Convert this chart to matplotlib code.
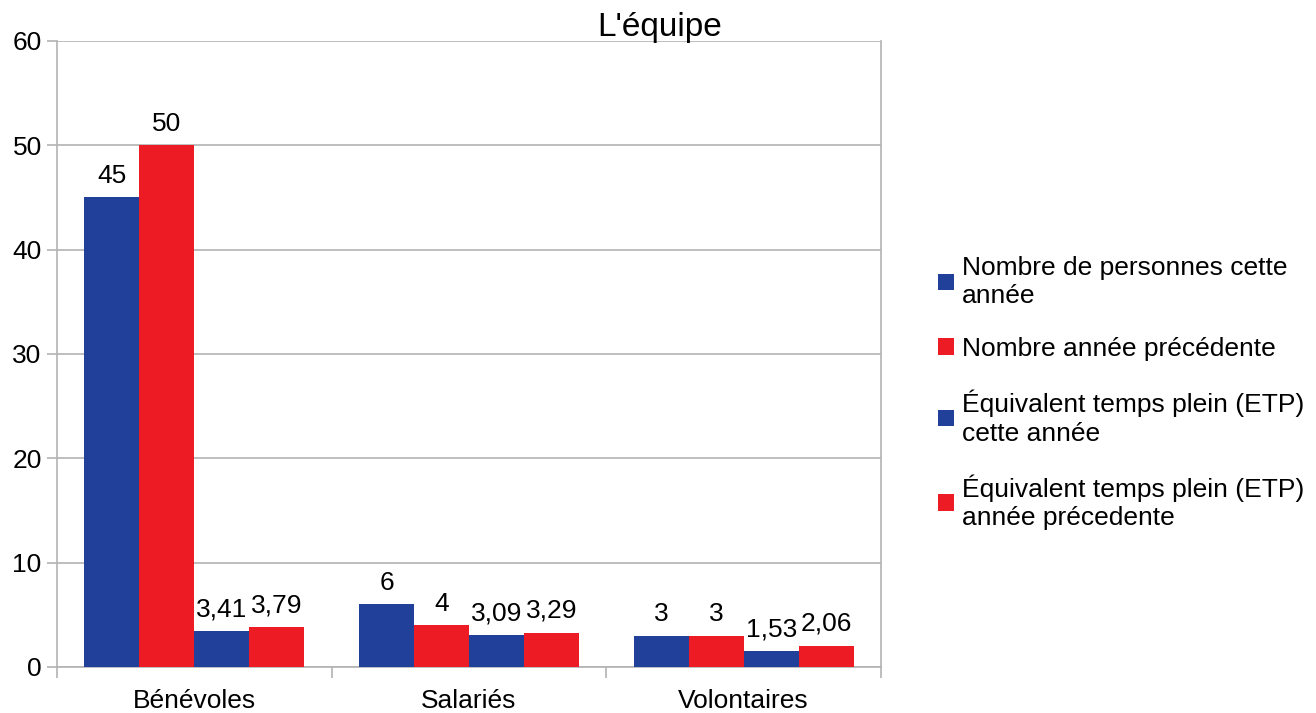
import matplotlib.pyplot as plt
import numpy as np
from matplotlib.patches import Patch

categories = ["Bénévoles", "Salariés", "Volontaires"]
series_names = [
    "Nombre de personnes cette\nannée",
    "Nombre année précédente",
    "Équivalent temps plein (ETP)\ncette année",
    "Équivalent temps plein (ETP)\nannée précedente",
]
nb_cette_annee = [45, 6, 3]
nb_annee_prec = [50, 4, 3]
etp_cette_annee = [3.41, 3.09, 1.53]
etp_annee_prec = [3.79, 3.29, 2.06]
y_ticks = [0, 10, 20, 30, 40, 50, 60]

blue = '#21409a'
red = '#ed1c24'
grid_col = '#b3b3b3'
colors = [blue, red, blue, red]
all_series = [nb_cette_annee, nb_annee_prec, etp_cette_annee, etp_annee_prec]

plt.rcParams['font.family'] = ['Liberation Sans', 'DejaVu Sans']
fs = 19

fig = plt.figure(figsize=(13.16, 7.13), dpi=100)
ax = fig.add_axes([57 / 1316, 1 - 667 / 713, 824 / 1316, 626 / 713])

x = np.arange(len(categories))
width = 0.2
for i, (vals, col) in enumerate(zip(all_series, colors)):
    bars = ax.bar(x + (i - 1.5) * width, vals, width, color=col, zorder=3)
    labels = [f"{v:g}".replace('.', ',') for v in vals]
    ax.bar_label(bars, labels=labels, padding=7, fontsize=fs, color='black')

ax.set_xlim(-0.5, 2.5)
ax.set_ylim(0, 60)
ax.set_yticks(y_ticks)
ax.set_xticks(x)
ax.set_xticklabels(categories)
ax.set_xticks([-0.5, 0.5, 1.5, 2.5], minor=True)
ax.tick_params(axis='x', which='major', length=0, pad=16, labelsize=fs)
ax.tick_params(axis='x', which='minor', length=8, width=1.2, color=grid_col, direction='out')
ax.tick_params(axis='y', length=7, width=1.2, color=grid_col, pad=4, labelsize=fs)

ax.yaxis.grid(True, color=grid_col, linewidth=1.2, zorder=0)
ax.set_axisbelow(True)
for side in ['left', 'bottom', 'right']:
    ax.spines[side].set_color(grid_col)
    ax.spines[side].set_linewidth(1.2)
ax.spines['top'].set_visible(False)

fig.text(0.5015, 1 - 36 / 713, "L'équipe", ha='center', va='baseline', fontsize=24)

handles = [Patch(facecolor=c, edgecolor='none') for c in colors]
leg = fig.legend(handles, series_names, loc='center left',
                 bbox_to_anchor=(938 / 1316, 1 - 393 / 713),
                 frameon=False, fontsize=fs, handlelength=0.6, handleheight=0.6,
                 handletextpad=0.3, labelspacing=1.1, borderpad=0, borderaxespad=0)
for t in leg.get_texts():
    t.set_linespacing(1.22)

plt.savefig('out.png', dpi=100)
